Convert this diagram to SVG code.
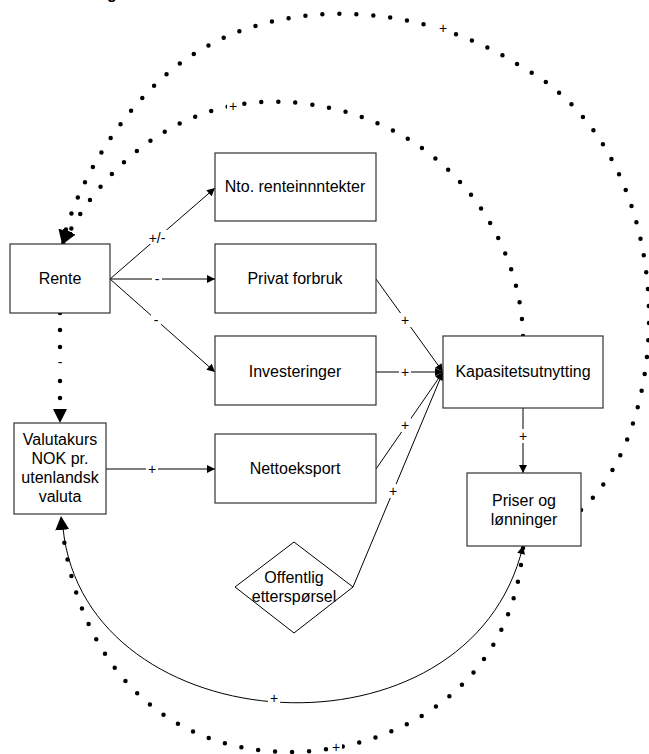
<svg xmlns="http://www.w3.org/2000/svg" width="649" height="754" viewBox="0 0 649 754">
<style>
.box{fill:#fff;stroke:#333;stroke-width:1.2}
.t{font-family:"Liberation Sans",Arial,sans-serif;font-size:16px;fill:#000;text-anchor:middle}
.lbl{font-family:"Liberation Sans",Arial,sans-serif;font-size:14px;fill:#000;text-anchor:middle}
.bg{fill:#fff;stroke:none}
.ln{fill:none;stroke:#000;stroke-width:1}
.dot{fill:none;stroke:#000;stroke-width:4.5;stroke-linecap:round;stroke-dasharray:0 17}
</style>
<defs>
<marker id="arr" viewBox="0 0 10 10" refX="10" refY="5" markerWidth="11" markerHeight="8" markerUnits="userSpaceOnUse" orient="auto-start-reverse"><path d="M0,0 L10,5 L0,10 z" fill="#000"/></marker>
<marker id="big" viewBox="0 0 10 10" refX="10" refY="5" markerWidth="14" markerHeight="14" markerUnits="userSpaceOnUse" orient="auto"><path d="M0,0 L10,5 L0,10 z" fill="#000"/></marker>
</defs>
<text x="107" y="-1" font-family="Liberation Sans,Arial,sans-serif" font-size="16" font-weight="bold">g</text>
<g id="connectors">
<path class="ln" d="M110,279 L215,188" marker-end="url(#arr)"/>
<path class="ln" d="M110,279 L215,279" marker-end="url(#arr)"/>
<path class="ln" d="M110,279 L215,372" marker-end="url(#arr)"/>
<path class="ln" d="M106,469 L215,469" marker-end="url(#arr)"/>
<path class="ln" d="M376,279 L443,372" marker-end="url(#arr)"/>
<path class="ln" d="M376,372 L443,372" marker-end="url(#arr)"/>
<path class="ln" d="M376,469 L443,372" marker-end="url(#arr)"/>
<path class="ln" d="M353,587 L443,372" marker-end="url(#arr)"/>
<path class="ln" d="M523,408 L523,473" marker-end="url(#arr)"/>
<path class="ln" d="M63,528 C85,745 470,770 523,546" marker-end="url(#arr)"/>
<path class="dot" d="M581,510 C680,420 680,150 520,66 C420,0 250,-15 150,90 C110,130 75,190 62,244" marker-end="url(#big)"/>
<path class="dot" d="M523,336 C521,240 450,120 300,103 C180,90 100,170 63,244" marker-end="url(#big)"/>
<path class="dot" d="M60,313 L60,423" marker-end="url(#big)"/>
<path class="dot" d="M523,548 C510,700 380,752 290,752 C170,752 75,670 61,516" marker-end="url(#big)"/>
<rect class="bg" x="146" y="230" width="22" height="14"/><text class="lbl" x="157" y="243">+/-</text>
<rect class="bg" x="152" y="272" width="10" height="14"/><text class="lbl" x="157" y="284">-</text>
<rect class="bg" x="151" y="313" width="10" height="14"/><text class="lbl" x="156" y="325">-</text>
<rect class="bg" x="54" y="355" width="12" height="14"/><text class="lbl" x="60" y="367">-</text>
<rect class="bg" x="146" y="462" width="12" height="14"/><text class="lbl" x="152" y="474">+</text>
<rect class="bg" x="399" y="313" width="12" height="14"/><text class="lbl" x="405" y="325">+</text>
<rect class="bg" x="399" y="365" width="12" height="14"/><text class="lbl" x="405" y="377">+</text>
<rect class="bg" x="399" y="418" width="12" height="14"/><text class="lbl" x="405" y="430">+</text>
<rect class="bg" x="387" y="484" width="12" height="14"/><text class="lbl" x="393" y="496">+</text>
<rect class="bg" x="517" y="429" width="12" height="14"/><text class="lbl" x="523" y="441">+</text>
<rect class="bg" x="227" y="99" width="12" height="14"/><text class="lbl" x="233" y="111">+</text>
<rect class="bg" x="437" y="21" width="12" height="14"/><text class="lbl" x="443" y="33">+</text>
<rect class="bg" x="268" y="691" width="12" height="14"/><text class="lbl" x="274" y="703">+</text>
<rect class="bg" x="330" y="740" width="12" height="14"/><text class="lbl" x="336" y="752">+</text>
</g>
<g id="rente"><rect class="box" x="10" y="244" width="100" height="69"/><text class="t" x="60" y="284">Rente</text></g>
<g id="nto"><rect class="box" x="215" y="153" width="161" height="68"/><text class="t" x="295" y="192">Nto. renteinnntekter</text></g>
<g id="privat"><rect class="box" x="215" y="244" width="161" height="69"/><text class="t" x="295" y="284">Privat forbruk</text></g>
<g id="invest"><rect class="box" x="215" y="336" width="161" height="69"/><text class="t" x="295" y="377">Investeringer</text></g>
<g id="netto"><rect class="box" x="215" y="434" width="161" height="69"/><text class="t" x="295" y="474">Nettoeksport</text></g>
<g id="valuta"><rect class="box" x="14" y="423" width="92" height="91"/><text class="t" x="60" y="445">Valutakurs</text><text class="t" x="60" y="464">NOK pr.</text><text class="t" x="60" y="483">utenlandsk</text><text class="t" x="60" y="502">valuta</text></g>
<g id="kap"><rect class="box" x="443" y="336" width="160" height="72"/><text class="t" x="523" y="377">Kapasitetsutnytting</text></g>
<g id="priser"><rect class="box" x="467" y="473" width="114" height="73"/><text class="t" x="524" y="506">Priser og</text><text class="t" x="524" y="525">lønninger</text></g>
<g id="offentlig"><path class="box" d="M294,542 L353,587 L294,633 L235,587 Z" style="stroke:#000;stroke-width:1"/><text class="t" x="294" y="583">Offentlig</text><text class="t" x="294" y="602">etterspørsel</text></g>
</svg>
